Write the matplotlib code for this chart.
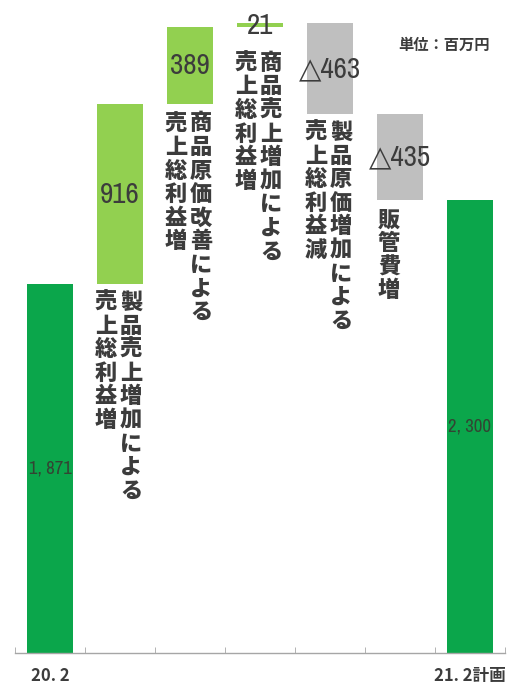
import matplotlib
matplotlib.use("Agg")
import matplotlib.pyplot as plt
from matplotlib.ticker import FixedLocator
from matplotlib import font_manager as fm

# ---- data ----
categories = ['20. 2', '', '', '', '', '', '21. 2計画']
values = [1871, 916, 389, 21, -463, -435, 2300]
kinds = ['total', 'up', 'up', 'up', 'down', 'down', 'total']
value_labels = ['1, 871', '916', '389', '21', '△463', '△435', '2, 300']
# vertical descriptions: columns listed right-to-left
descriptions = [
    [],
    ['製品売上増加による', '売上総利益増'],
    ['商品原価改善による', '売上総利益増'],
    ['商品売上増加による', '売上総利益増'],
    ['製品原価増加による', '売上総利益減'],
    ['販管費増'],
    [],
]
unit_label = '単位：百万円'

# ---- style ----
col_total = '#0BA64B'
col_up = '#92D050'
col_down = '#BFBFBF'
txt_col = '#3c3c3c'
jp_font = ['Noto Sans CJK JP', 'DejaVu Sans']

# pick a narrow font for numbers if available
names = {f.name for f in fm.fontManager.ttflist}
narrow_names = sorted(n for n in names if 'Narrow' in n or 'Condensed' in n)
if 'Liberation Sans Narrow' in names:
    num_kw = dict(family=['Liberation Sans Narrow', 'DejaVu Sans'])
elif narrow_names:
    num_kw = dict(family=[narrow_names[0], 'DejaVu Sans'])
else:
    num_kw = dict(family=['DejaVu Sans'], stretch='condensed')

fig = plt.figure(figsize=(5.07, 6.89), dpi=100)
ax = fig.add_axes([15/507, 36/689, 490/507, 653/689])
scale = 0.197  # px per unit
ax.set_xlim(-0.5, 6.5)
ax.set_ylim(0, 653/scale)

bottoms, heights, colors = [], [], []
cum = 0
for v, k in zip(values, kinds):
    if k == 'total':
        bottoms.append(0); heights.append(v); colors.append(col_total)
        cum = v
    elif k == 'up':
        bottoms.append(cum); heights.append(v); colors.append(col_up)
        cum += v
    else:
        cum += v
        bottoms.append(cum); heights.append(-v); colors.append(col_down)

x = list(range(len(values)))
ax.bar(x, heights, bottom=bottoms, width=0.66, color=colors, edgecolor='none', zorder=2)

# value labels
for i, (b, h, lab, k) in enumerate(zip(bottoms, heights, value_labels, kinds)):
    if k == 'total':
        ax.text(i, b + h/2, lab, ha='center', va='center', fontsize=13.5,
                weight='bold', color='#334433', zorder=3, **num_kw)
    else:
        ax.text(i, b + h/2, lab, ha='center', va='center', fontsize=21,
                color=txt_col, zorder=3, **num_kw)

# vertical description labels
step = 23.6
col_dx = [11, -14]
gaps = [0, 18, 20, 36, 18, 20, 0]
for i, cols in enumerate(descriptions):
    if not cols:
        continue
    low = bottoms[i]
    for c, s in enumerate(cols):
        dx = col_dx[c] if len(cols) > 1 else -11
        for k, ch in enumerate(s):
            ax.annotate(ch, xy=(i, low), xytext=(dx, -(gaps[i] + k*step)),
                        textcoords='offset pixels', ha='center', va='center',
                        fontsize=16, family=jp_font, weight='black',
                        color=txt_col, zorder=3)

# unit label
fig.text(444/507, 1 - 45/689, unit_label, ha='center', va='center', fontsize=11,
         family=jp_font, weight='bold', color=txt_col)

# axes styling
for s in ['left', 'top', 'right']:
    ax.spines[s].set_visible(False)
ax.spines['bottom'].set_color('#a6a6a6')
ax.spines['bottom'].set_linewidth(1.0)
ax.set_yticks([])
ax.set_xticks(x)
ax.set_xticklabels(categories, fontsize=12, weight='bold', color=txt_col, family=jp_font)
ax.tick_params(axis='x', which='major', length=0, pad=10)
ax.xaxis.set_minor_locator(FixedLocator([i - 0.5 for i in range(len(values) + 1)]))
ax.tick_params(axis='x', which='minor', direction='in', length=4, color='#a6a6a6')

fig.savefig('out.png', dpi=100)
